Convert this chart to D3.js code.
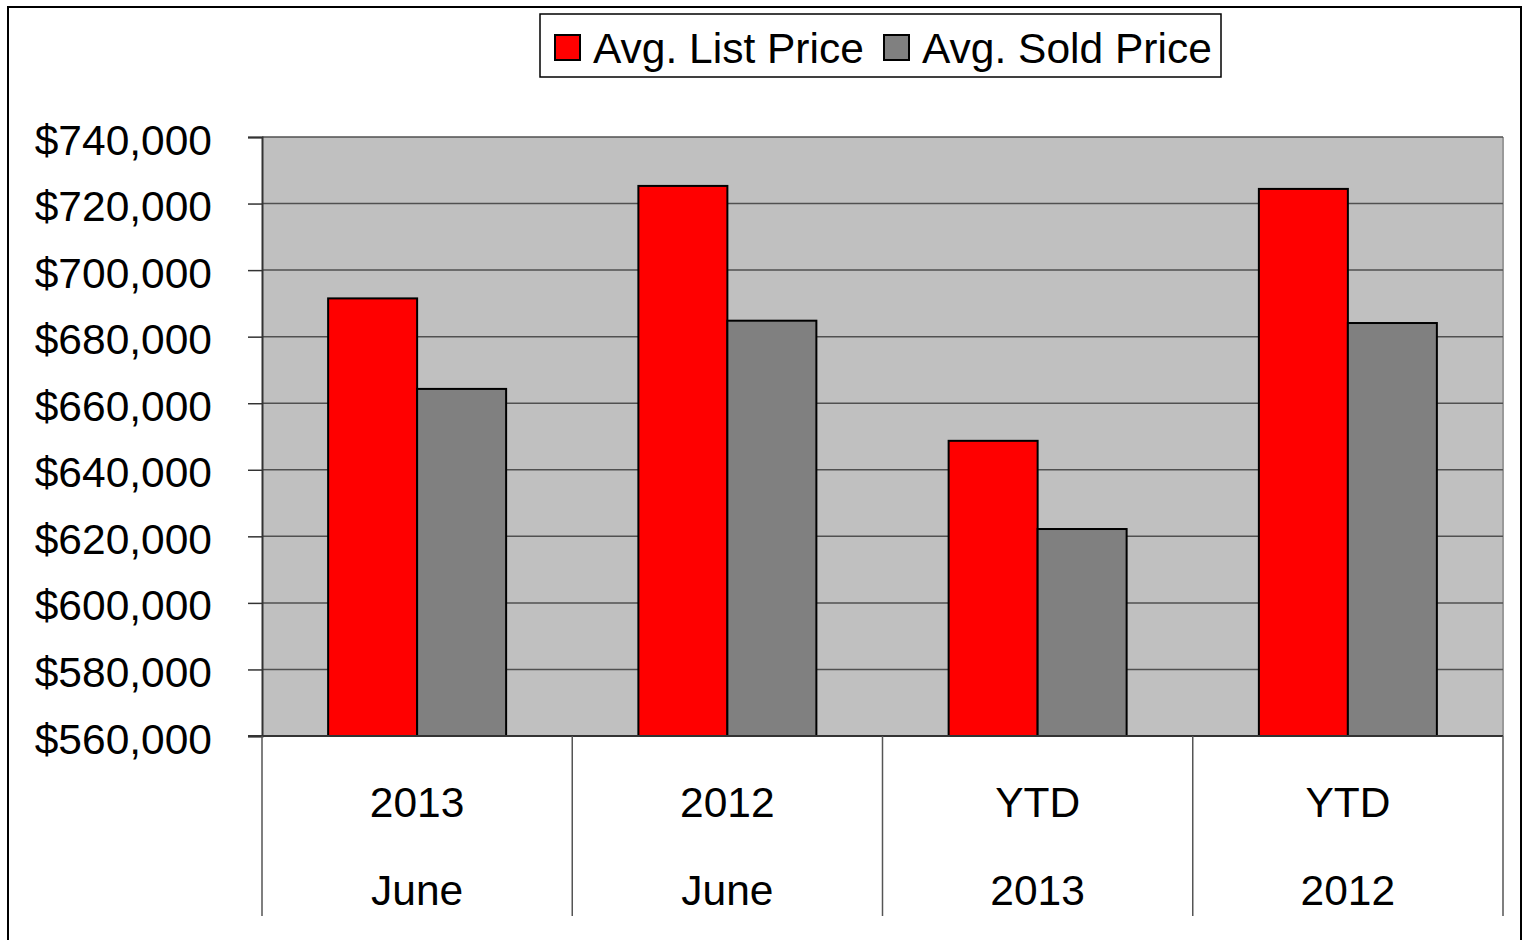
<!DOCTYPE html>
<html>
<head>
<meta charset="utf-8">
<script src="https://cdn.jsdelivr.net/npm/d3@7"></script>
<style>
  body { margin: 0; background: #fff; }
  text { font-family: "Liberation Sans", Arial, sans-serif; fill: #000; }
</style>
</head>
<body>
<script>
// chart data
var groups = ["2013 June", "2012 June", "YTD 2013", "YTD 2012"];
var groupLines = [["2013", "June"], ["2012", "June"], ["YTD", "2013"], ["YTD", "2012"]];
var seriesNames = ["Avg. List Price", "Avg. Sold Price"];
var listPrice = [691500, 725300, 648700, 724400];
var soldPrice = [664300, 684800, 622200, 684100];
var yTicks = [560000, 580000, 600000, 620000, 640000, 660000, 680000, 700000, 720000, 740000];
var colors = ["#ff0000", "#808080"];

var svgWidth = 1528;
var svgHeight = 940;
var plot = { left: 262, right: 1503, top: 137, bottom: 736 };
var fontSize = "42.5px";

var svg = d3.select("body")
  .append("svg")
  .attr("width", svgWidth)
  .attr("height", svgHeight);

// outer chart frame (bottom runs off the image)
svg.append("rect")
  .attr("x", 8).attr("y", 7)
  .attr("width", 1513).attr("height", 980)
  .attr("fill", "#fff")
  .attr("stroke", "#000")
  .attr("stroke-width", 2);

var x0 = d3.scaleBand().domain(groups).range([plot.left, plot.right]).padding(0);
var x1 = d3.scaleBand().domain(seriesNames).range([0, x0.bandwidth()])
  .paddingInner(0).paddingOuter(0.743);
var y = d3.scaleLinear().domain([560000, 740000]).range([plot.bottom, plot.top]);

// plot background
svg.append("rect")
  .attr("x", plot.left).attr("y", plot.top)
  .attr("width", plot.right - plot.left).attr("height", plot.bottom - plot.top)
  .attr("fill", "#c0c0c0");

// right border of plot area
svg.append("line")
  .attr("x1", plot.right).attr("x2", plot.right)
  .attr("y1", plot.top).attr("y2", plot.bottom)
  .attr("stroke", "#9a9a9a").attr("stroke-width", 2);

// gridlines
svg.selectAll(".grid")
  .data(yTicks.slice(1))
  .enter()
  .append("line")
  .attr("class", "grid")
  .attr("x1", plot.left).attr("x2", plot.right)
  .attr("y1", d => y(d)).attr("y2", d => y(d))
  .attr("stroke", "#505050").attr("stroke-width", 1.5);

// bars
var data = groups.map((g, i) => ({ group: g, values: [listPrice[i], soldPrice[i]] }));
var gGroups = svg.selectAll(".group")
  .data(data)
  .enter()
  .append("g")
  .attr("class", "group")
  .attr("transform", d => `translate(${x0(d.group)},0)`);

gGroups.selectAll("rect")
  .data(d => d.values.map((v, j) => ({ series: seriesNames[j], value: v, color: colors[j] })))
  .enter()
  .append("rect")
  .attr("x", d => x1(d.series))
  .attr("y", d => y(d.value))
  .attr("width", x1.bandwidth())
  .attr("height", d => y(560000) - y(d.value))
  .attr("fill", d => d.color)
  .attr("stroke", "#000")
  .attr("stroke-width", 2);

// y axis
var leftAxis = d3.axisLeft(y)
  .tickValues(yTicks)
  .tickSize(14)
  .tickPadding(36)
  .tickFormat(d => "$" + d3.format(",")(d));

var yAxis = svg.append("g")
  .attr("transform", `translate(${plot.left},0)`)
  .call(leftAxis);
yAxis.select(".domain").attr("stroke", "#333").attr("stroke-width", 2);
yAxis.selectAll(".tick line").attr("stroke", "#333").attr("stroke-width", 1.5);
yAxis.selectAll(".tick text")
  .attr("font-size", fontSize)
  .attr("font-family", "Liberation Sans, Arial, sans-serif")
  .attr("dy", "0.4em")
  .attr("fill", "#000");

// x axis line
svg.append("line")
  .attr("x1", plot.left - 14).attr("x2", plot.right)
  .attr("y1", plot.bottom).attr("y2", plot.bottom)
  .attr("stroke", "#333").attr("stroke-width", 2);

// category separators
var seps = groups.map(g => x0(g)).concat([plot.right]);
svg.selectAll(".sep")
  .data(seps)
  .enter()
  .append("line")
  .attr("class", "sep")
  .attr("x1", d => d).attr("x2", d => d)
  .attr("y1", plot.bottom).attr("y2", 916)
  .attr("stroke", "#555").attr("stroke-width", 1.5);

// category labels (two rows)
groups.forEach(function(g, i) {
  var cx = x0(g) + x0.bandwidth() / 2;
  svg.append("text")
    .attr("x", cx).attr("y", 817)
    .attr("text-anchor", "middle")
    .attr("font-size", fontSize)
    .text(groupLines[i][0]);
  svg.append("text")
    .attr("x", cx).attr("y", 905)
    .attr("text-anchor", "middle")
    .attr("font-size", fontSize)
    .text(groupLines[i][1]);
});

// legend
var legend = svg.append("g");
legend.append("rect")
  .attr("x", 540).attr("y", 14)
  .attr("width", 681).attr("height", 63)
  .attr("fill", "#fff")
  .attr("stroke", "#000")
  .attr("stroke-width", 1.5);

var legendX = [555, 884];
seriesNames.forEach(function(name, i) {
  legend.append("rect")
    .attr("x", legendX[i]).attr("y", 35)
    .attr("width", 25).attr("height", 25)
    .attr("fill", colors[i])
    .attr("stroke", "#000")
    .attr("stroke-width", 2);
  legend.append("text")
    .attr("x", legendX[i] + 38).attr("y", 63)
    .attr("font-size", fontSize)
    .text(name);
});
</script>
</body>
</html>
